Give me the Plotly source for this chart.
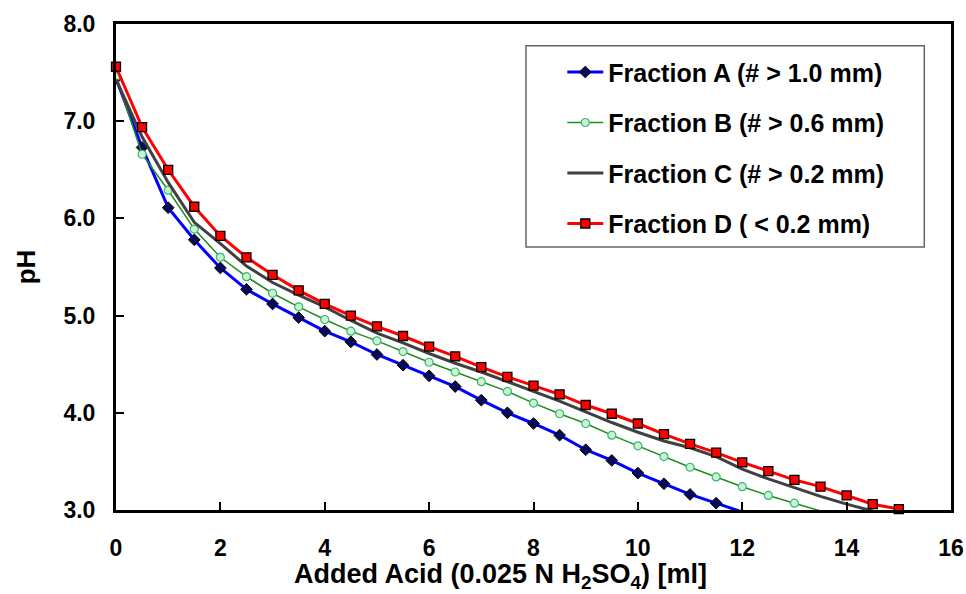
import plotly.graph_objects as go

# ---- data ----
x_A = [0, 0.5, 1, 1.5, 2, 2.5, 3, 3.5, 4, 4.5, 5, 5.5, 6, 6.5, 7, 7.5, 8, 8.5, 9, 9.5,
       10, 10.5, 11, 11.5, 12]
ph_A = [7.44, 6.73, 6.11, 5.78, 5.49, 5.27, 5.12, 4.98, 4.84, 4.73, 4.60, 4.49, 4.38, 4.27,
        4.13, 4.00, 3.89, 3.77, 3.62, 3.51, 3.38, 3.27, 3.16, 3.07, 2.98]

x_B = [0, 0.5, 1, 1.5, 2, 2.5, 3, 3.5, 4, 4.5, 5, 5.5, 6, 6.5, 7, 7.5, 8, 8.5, 9, 9.5,
       10, 10.5, 11, 11.5, 12, 12.5, 13, 13.5]
ph_B = [7.46, 6.66, 6.29, 5.89, 5.60, 5.40, 5.23, 5.09, 4.96, 4.84, 4.74, 4.63, 4.52, 4.42,
        4.32, 4.22, 4.10, 3.99, 3.89, 3.77, 3.66, 3.55, 3.44, 3.34, 3.24, 3.15, 3.07, 2.99]

x_C = [0, 0.5, 1, 1.5, 2, 2.5, 3, 3.5, 4, 4.5, 5, 5.5, 6, 6.5, 7, 7.5, 8, 8.5, 9, 9.5,
       10, 10.5, 11, 11.5, 12, 12.5, 13, 13.5, 14, 14.5]
ph_C = [7.43, 6.84, 6.37, 5.96, 5.74, 5.51, 5.34, 5.21, 5.09, 4.95, 4.82, 4.72, 4.61, 4.51,
        4.42, 4.32, 4.22, 4.12, 4.01, 3.90, 3.80, 3.71, 3.64, 3.55, 3.42, 3.32, 3.23, 3.14,
        3.06, 2.99]

x_D = [0, 0.5, 1, 1.5, 2, 2.5, 3, 3.5, 4, 4.5, 5, 5.5, 6, 6.5, 7, 7.5, 8, 8.5, 9, 9.5,
       10, 10.5, 11, 11.5, 12, 12.5, 13, 13.5, 14, 14.5, 15]
ph_D = [7.56, 6.94, 6.50, 6.12, 5.82, 5.60, 5.42, 5.26, 5.12, 5.00, 4.89, 4.79, 4.68, 4.58,
        4.47, 4.37, 4.28, 4.19, 4.08, 3.99, 3.89, 3.78, 3.68, 3.59, 3.49, 3.40, 3.31, 3.24,
        3.15, 3.06, 3.01]

names = ["Fraction A (# > 1.0 mm)", "Fraction B (# > 0.6 mm)",
         "Fraction C (# > 0.2 mm)", "Fraction D ( < 0.2 mm)"]

x_ticks = [0, 2, 4, 6, 8, 10, 12, 14, 16]
y_ticks = [3.0, 4.0, 5.0, 6.0, 7.0, 8.0]

x_title = "Added Acid (0.025 N H<sub>2</sub>SO<sub>4</sub>) [ml]"
y_title = "pH"

FONT = "Arial, 'Liberation Sans', sans-serif"

fig = go.Figure()
fig.add_trace(go.Scatter(
    x=x_A, y=ph_A, name=names[0], legendgroup="a", mode="lines+markers",
    line=dict(color="#0000FF", width=3),
    marker=dict(symbol="diamond", size=9, color="#0A0A5A", line=dict(color="#000000", width=1))))
fig.add_trace(go.Scatter(
    x=x_B, y=ph_B, name=names[1], legendgroup="b", mode="lines+markers",
    line=dict(color="#1E8C1E", width=1.5),
    marker=dict(symbol="circle", size=8, color="#C8F5D0", line=dict(color="#3CB371", width=1.2))))
fig.add_trace(go.Scatter(
    x=x_C, y=ph_C, name=names[2], legendgroup="c", mode="lines",
    line=dict(color="#404040", width=3)))
fig.add_trace(go.Scatter(
    x=x_D, y=ph_D, name=names[3], legendgroup="d", mode="lines+markers", cliponaxis=False,
    line=dict(color="#FF0000", width=3),
    marker=dict(symbol="square", size=9, color="#FF0000", line=dict(color="#000000", width=1.3))))

fig.update_layout(
    width=966, height=594,
    margin=dict(l=116, r=15, t=24, b=84, autoexpand=False),
    paper_bgcolor="white", plot_bgcolor="white",
    font=dict(family=FONT, color="#000000", weight="bold"),
    showlegend=True,
    legend=dict(
        x=0.489, y=0.948, xanchor="left", yanchor="top",
        bgcolor="rgba(0,0,0,0)", borderwidth=0,
        font=dict(family=FONT, size=25, color="#000000", weight="bold"),
        traceorder="grouped", tracegroupgap=15,
        itemwidth=36, indentation=38,
    ),
    shapes=[dict(type="rect", xref="paper", yref="paper",
                 x0=0.491, x1=0.968, y0=0.541, y1=0.955,
                 line=dict(color="#666666", width=1.5), fillcolor="rgba(0,0,0,0)")],
    annotations=[dict(text=x_title, xref="paper", yref="paper", x=0.461, y=-0.136,
                      xanchor="center", yanchor="middle", showarrow=False,
                      font=dict(family=FONT, size=27, color="#000000", weight="bold"))],
)

fig.update_xaxes(
    range=[0, 16], tickvals=x_ticks, ticktext=[str(v) for v in x_ticks],
    showgrid=False, zeroline=False, automargin=False,
    showline=True, linecolor="#000000", linewidth=3, mirror=True,
    ticks="inside", ticklen=8, tickwidth=2, tickcolor="#000000",
    ticklabelstandoff=15,
    tickfont=dict(family=FONT, size=23, color="#000000", weight="bold"),
)
fig.update_yaxes(
    range=[3.0, 8.0], tickvals=y_ticks, ticktext=["%.1f" % v for v in y_ticks],
    showgrid=False, zeroline=False, automargin=False,
    showline=True, linecolor="#000000", linewidth=3, mirror=True,
    ticks="inside", ticklen=8, tickwidth=2, tickcolor="#000000",
    ticklabelstandoff=13,
    tickfont=dict(family=FONT, size=23, color="#000000", weight="bold"),
    title=dict(text=y_title, font=dict(family=FONT, size=26, color="#000000", weight="bold"),
               standoff=21),
)

# remove the default page margin so the 966x594 figure fills the window exactly
fig.write_html("out.html",
               config={"displayModeBar": False},
               post_script="document.body.style.margin='0';document.body.style.overflow='hidden';")
